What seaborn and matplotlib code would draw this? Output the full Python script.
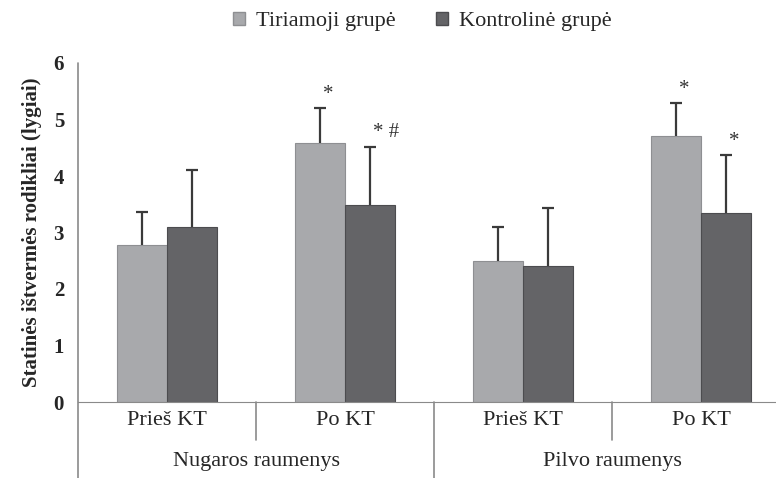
# ================== IMPORT LIBRARIES ==================
import pandas as pd
import numpy as np
import matplotlib.pyplot as plt
import seaborn as sns

# ================== DATA ==================
conditions = ['Nugaros Prieš KT', 'Nugaros Po KT', 'Pilvo Prieš KT', 'Pilvo Po KT']
tick_labels = ['Prieš KT', 'Po KT', 'Prieš KT', 'Po KT']
muscle_groups = ['Nugaros raumenys', 'Pilvo raumenys']
groups = ['Tiriamoji grupė', 'Kontrolinė grupė']

tiriamoji = [2.77, 4.59, 2.50, 4.71]
kontroline = [3.10, 3.48, 2.41, 3.34]
tiriamoji_sd = [0.59, 0.61, 0.60, 0.58]
kontroline_sd = [1.01, 1.04, 1.02, 1.03]
tiriamoji_marks = ['', '*', '', '*']
kontroline_marks = ['', '* #', '', '*']

df = pd.DataFrame({
    'salyga': conditions * 2,
    'grupe': [groups[0]] * 4 + [groups[1]] * 4,
    'reiksme': tiriamoji + kontroline,
})

# ================== STYLE ==================
sns.set_style('white')
plt.rcParams['font.family'] = ['Liberation Serif', 'DejaVu Serif']

colors = ['#a8a9ac', '#646467']
edges = ['#8e8f92', '#4c4c4f']
axis_col = '#8a8a8a'

# ================== PLOT ==================
fig = plt.figure(figsize=(7.76, 4.78), dpi=100)
ax = fig.add_axes([78 / 776, 76 / 478, 698 / 776, 339 / 478])

sns.barplot(data=df, x='salyga', y='reiksme', hue='grupe', order=conditions,
            hue_order=groups, palette=colors, width=0.56, errorbar=None,
            saturation=1, ax=ax)

for cont, sds, marks, ec in zip(ax.containers, [tiriamoji_sd, kontroline_sd],
                                [tiriamoji_marks, kontroline_marks], edges):
    for bar, sd, mk in zip(cont, sds, marks):
        bar.set_edgecolor(ec)
        bar.set_linewidth(0.8)
        x = bar.get_x() + bar.get_width() / 2
        y = bar.get_height()
        eb = ax.errorbar(x, y, yerr=[[0], [sd]], fmt='none', ecolor='#3a3a3a',
                         elinewidth=1.6, capsize=4.3, capthick=1.6)
        # only the upper cap is shown
        eb[1][0].set_visible(False)
        if mk:
            ax.annotate(mk, (x, y + sd), xytext=(2, 3), textcoords='offset points',
                        ha='left', va='bottom', fontsize=15, color='#333333')

ax.set_ylim(0, 6)
ax.set_xlim(-0.5, 3.42)
ax.set_yticks(range(7))
ax.set_yticklabels([str(i) for i in range(7)], fontsize=15, fontweight='bold')
ax.tick_params(axis='y', length=6, width=1, color=axis_col, pad=4)
ax.tick_params(axis='x', length=0)
ax.set_xticks([])
ax.set_xlabel('')
ax.set_ylabel('Statinės ištvermės rodikliai (lygiai)', fontsize=15,
              fontweight='bold', labelpad=8)

for s in ['top', 'right', 'left']:
    ax.spines[s].set_visible(False)
ax.spines['bottom'].set_color(axis_col)

# axis and table-like category separators below
trans = ax.get_xaxis_transform()
ax.plot([-0.5, -0.5], [1.0, -0.225], transform=trans, color=axis_col, lw=1.2, clip_on=False)
for xs, ybot in [(0.5, -0.112), (1.5, -0.225), (2.5, -0.112)]:
    ax.plot([xs, xs], [0, ybot], transform=trans, color=axis_col, lw=1.2, clip_on=False)

for i, lab in enumerate(tick_labels):
    ax.text(i, -0.055, lab, transform=trans, ha='center', va='center', fontsize=16)
for j, lab in enumerate(muscle_groups):
    ax.text(2 * j + 0.5, -0.175, lab, transform=trans, ha='center', va='center', fontsize=16)

ax.get_legend().remove()
handles = [plt.Rectangle((0, 0), 1, 1, fc=c, ec=e) for c, e in zip(colors, edges)]
fig.legend(handles, groups, loc='center', bbox_to_anchor=(0.544, 0.955), ncol=2,
           frameon=False, fontsize=16, handlelength=0.55, handleheight=0.55,
           handletextpad=0.5, columnspacing=1.8)

plt.savefig('out.png', dpi=100)
